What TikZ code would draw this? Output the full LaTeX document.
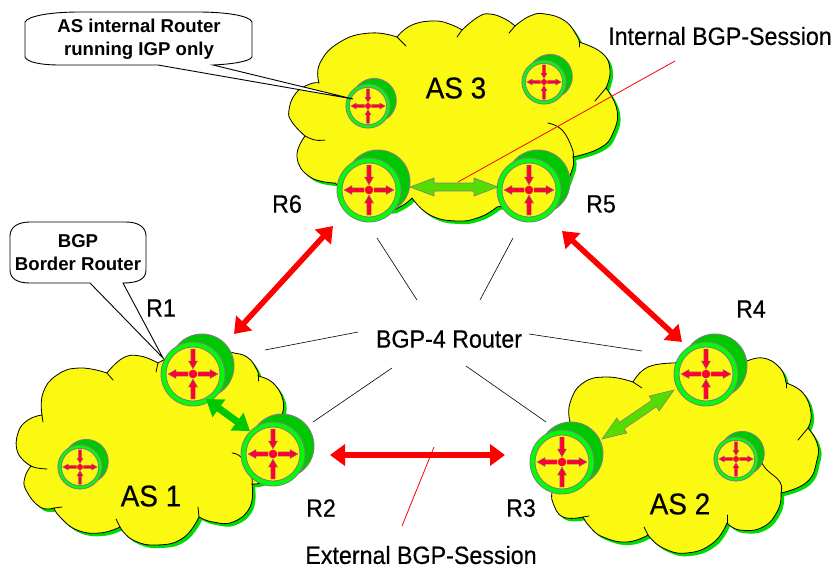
\documentclass[tikz,border=0pt]{standalone}
\usepackage{fontspec}
\setmainfont{Liberation Sans}
\newfontfamily\labfont[FakeStretch=0.93,FakeBold=0.35]{Liberation Sans}
\usetikzlibrary{arrows.meta,calc}
\definecolor{cloudyellow}{HTML}{FBF912}
\definecolor{cloudshadow}{HTML}{00DC00}
\definecolor{routerback}{HTML}{00C800}
\definecolor{routerring}{HTML}{00FF00}
\definecolor{routerred}{HTML}{FF0033}
\definecolor{routergray}{HTML}{808080}
\definecolor{limearrow}{HTML}{55DD00}
\tikzset{
  every node/.style={inner sep=0pt,outer sep=0pt},
  cloudline/.style={draw=black,line width=0.8pt,line join=round},
  tailline/.style={black,line width=0.8pt,line cap=round},
  routerparts/.style={draw=routergray,line width=0.9pt},
  redarrow/.style={draw=red,line width=5.5pt,{Triangle[length=15pt,width=21pt,fill=red]}-{Triangle[length=15pt,width=21pt,fill=red]}},
  darkarrow/.style={draw=routerback,line width=7pt,{Triangle[length=16pt,width=21pt,fill=routerback]}-{Triangle[length=16pt,width=21pt,fill=routerback]}},
  thinblack/.style={black,line width=0.6pt},
  thinred/.style={red,line width=0.8pt},
  biglabel/.style={font=\labfont\fontsize{25}{25}\selectfont},
  aslabel/.style={font=\labfont\fontsize{30}{30}\selectfont},
  calloutbox/.style={draw=black,line width=0.9pt,fill=white,line join=miter},
  callouttext/.style={font=\bfseries\fontsize{18.6}{23}\selectfont,align=center},
}
% router: name, x, y, scale
\newcommand{\routerdraw}[4]{%
  \begin{scope}[shift={(#2,#3)},scale=#4]
    \filldraw[routerparts,fill=routerback] (9,-8) circle (32);
    \filldraw[routerparts,fill=routerring] (0,0) circle (32);
    \filldraw[routerparts,fill=cloudyellow] (0,0) circle (27);
    \foreach \a in {0,180}{
      \filldraw[rotate=\a,fill=routerred,draw=routergray,line width=0.4pt]
        (5,-2.2)--(17,-2.2)--(17,-4.5)--(25,0)--(17,4.5)--(17,2.2)--(5,2.2)--cycle;}
    \foreach \a in {90,270}{
      \filldraw[rotate=\a,fill=routerred,draw=routergray,line width=0.4pt]
        (25,-2.2)--(13,-2.2)--(13,-4.5)--(5,0)--(13,4.5)--(13,2.2)--(25,2.2)--cycle;}
    \fill[routerred] (0,0) circle (4.3);
  \end{scope}
  \node[circle,minimum size=#4*64pt] (#1) at (#2,#3) {};
}
% block arrow with outline, between two named points
\newcommand{\blockarrow}[2]{%
  \filldraw[fill=limearrow,draw=routergray,line width=0.6pt]
    let \p1=($(#2)-(#1)$),\n1={atan2(\y1,\x1)},\n2={veclen(\x1,\y1)} in
    {[shift={(#1)},rotate=\n1]
      (0,0)--(24,-9)--(24,-4)--(\n2-24,-4)--(\n2-24,-9)--(\n2,0)--(\n2-24,9)--(\n2-24,4)--(24,4)--(24,9)--cycle};
}
\newcommand{\cloudthree}{
 (319,83) -- plot[smooth,tension=.8] coordinates {(319,83)(320,63)(340,42)(370,33)(397,37)}
 -- plot[smooth,tension=.8] coordinates {(397,37)(412,25)(435,21)(452,25)(462,30)}
 -- plot[smooth,tension=.8] coordinates {(462,30)(478,17)(490,14)(505,19)(515,26)}
 -- plot[smooth,tension=.8] coordinates {(515,26)(530,16)(545,14)(565,21)(577,36)(579,42)}
 -- plot[smooth,tension=.8] coordinates {(579,42)(602,53)(610,70)(606,88)}
 -- plot[smooth,tension=.8] coordinates {(606,88)(617,110)(613,133)(600,148)(573,157)}
 -- plot[smooth,tension=.8] coordinates {(573,157)(572,170)(560,190)(530,200)(497,207)}
 -- plot[smooth,tension=.8] coordinates {(497,207)(480,217)(457,221)(430,215)(412,198)}
 -- plot[smooth,tension=.8] coordinates {(412,198)(400,207)(385,210)(360,200)(335,183)}
 -- plot[smooth,tension=.8] coordinates {(335,183)(310,177)(297,157)(305,136)}
 -- plot[smooth,tension=.8] coordinates {(305,136)(292,122)(289,110)(296,93)(310,84)(319,83)} -- cycle}
\newcommand{\cloudone}{
 (42,415) -- plot[smooth,tension=.8] coordinates {(42,415)(43,393)(57,375)(80,368)(107,373)}
 -- plot[smooth,tension=.8] coordinates {(107,373)(123,358)(140,356)(158,363)}
 -- plot[smooth,tension=.8] coordinates {(158,363)(175,355)(205,345)(230,352)(247,357)(257,370)(258,376)}
 -- plot[smooth,tension=.8] coordinates {(258,376)(273,383)(283,400)(282,415)}
 -- plot[smooth,tension=.8] coordinates {(282,415)(292,445)(270,477)(252,484)}
 -- plot[smooth,tension=.8] coordinates {(252,484)(250,507)(233,522)(213,522)(199,517)}
 -- plot[smooth,tension=.8] coordinates {(199,517)(183,538)(157,545)(133,540)(120,527)}
 -- plot[smooth,tension=.8] coordinates {(120,527)(100,533)(77,530)(60,517)(54,508)}
 -- plot[smooth,tension=.8] coordinates {(54,508)(40,507)(26,490)(25,477)(31,466)}
 -- plot[smooth,tension=.8] coordinates {(31,466)(18,453)(18,433)(28,420)(42,415)} -- cycle}
\newcommand{\cloudtwo}{
 (570,422) -- plot[smooth,tension=.8] coordinates {(570,422)(570,403)(583,383)(607,377)(633,382)}
 -- plot[smooth,tension=.8] coordinates {(633,382)(648,367)(675,363)}
 -- plot[smooth,tension=.8] coordinates {(675,363)(710,350)(745,362)}
 -- plot[smooth,tension=.8] coordinates {(745,362)(763,358)(780,368)(786,383)}
 -- plot[smooth,tension=.8] coordinates {(786,383)(803,393)(811,413)(808,428)}
 -- plot[smooth,tension=.8] coordinates {(808,428)(817,443)(817,460)(807,482)(781,493)}
 -- plot[smooth,tension=.8] coordinates {(781,493)(778,510)(763,527)(740,530)(727,523)}
 -- plot[smooth,tension=.8] coordinates {(727,523)(713,543)(687,553)(663,548)(648,535)}
 -- plot[smooth,tension=.8] coordinates {(648,535)(627,542)(603,537)(590,527)(583,517)}
 -- plot[smooth,tension=.8] coordinates {(583,517)(563,517)(553,503)(552,493)}
 -- plot[smooth,tension=.8] coordinates {(552,493)(555,460)(570,422)} -- cycle}
\begin{document}
\begin{tikzpicture}[x=1pt,y=-1pt]
\useasboundingbox (0,0) rectangle (835,568);
\fill[white] (0,0) rectangle (835,568);

% cloud shadows and clouds
\fill[cloudshadow,shift={(3,3)}] \cloudthree;
\fill[cloudshadow,shift={(3,3)}] \cloudone;
\fill[cloudshadow,shift={(3,3)}] \cloudtwo;
\path[cloudline,fill=cloudyellow] \cloudthree;
\path[cloudline,fill=cloudyellow] \cloudone;
\path[cloudline,fill=cloudyellow] \cloudtwo;

% inner lobe tails
\draw[tailline] (397,37) -- (406,46);
\draw[tailline] (462,30) -- (457,37);
\draw[tailline] (515,26) -- (509,33);
\draw[tailline] (579,42) -- (579,47);
\draw[tailline] (606,88) -- (595,101);
\draw[tailline] plot[smooth,tension=.8] coordinates {(548,123)(562,130)(572,148)(573,157)};
\draw[tailline] plot[smooth,tension=.8] coordinates {(305,136)(315,140)(325,140)};
\draw[tailline] (107,373) -- (113,380);
\draw[tailline] (158,363) -- (156,372);
\draw[tailline] (258,376) -- (258,381);
\draw[tailline] plot[smooth,tension=.8] coordinates {(232,453)(242,458)(251,475)(252,484)};
\draw[tailline] (199,517) -- (198,507);
\draw[tailline] (120,527) -- (116,519);
\draw[tailline] (54,508) -- (62,507);
\draw[tailline] plot[smooth,tension=.8] coordinates {(31,466)(37,468)(47,469)};
\draw[tailline] (42,415) -- (43,422);
\draw[tailline] (633,382) -- (642,388);
\draw[tailline] (786,383) -- (786,388);
\draw[tailline] (808,428) -- (798,440);
\draw[tailline] plot[smooth,tension=.8] coordinates {(781,493)(780,482)(767,470)(762,463)};
\draw[tailline] (727,523) -- (727,515);
\draw[tailline] (648,535) -- (644,527);
\draw[tailline] (583,517) -- (589,516);

% routers
\routerdraw{R6}{369}{190}{1}
\routerdraw{R5}{529}{190}{1}
\routerdraw{R1}{193}{374}{1}
\routerdraw{R2}{273}{454}{1}
\routerdraw{R3}{562}{462}{1}
\routerdraw{R4}{706}{374}{1}
\routerdraw{IA}{368}{106}{0.69}
\routerdraw{IB}{544}{82}{0.69}
\routerdraw{IC}{80}{467}{0.69}
\routerdraw{ID}{736}{459}{0.69}

% callouts
\path[calloutbox] (25,57) -- (25,22) .. controls (28,16) and (50,12) .. (80,12) -- (197,12)
  .. controls (228,12) and (250,16) .. (252,22) -- (252,57)
  .. controls (250,61) and (235,64) .. (213,65) -- (353,99) -- (158,65) -- (60,65)
  .. controls (40,65) and (27,62) .. (25,57) -- cycle;
\path[calloutbox] (10,236) .. controls (10,227) and (18,222) .. (30,222) -- (126,222)
  .. controls (138,222) and (146,227) .. (146,236) -- (146,270)
  .. controls (146,279) and (138,283) .. (123,283) -- (163,358) -- (90,283) -- (30,283)
  .. controls (18,283) and (10,279) .. (10,270) -- cycle;
\node[callouttext] (calloutA) at (139,39) {AS internal Router\\running IGP only};
\node[callouttext] (calloutB) at (78,253) {BGP\\Border Router};

% sessions
\blockarrow{$(R6.center)+(41,-3)$}{$(R5.center)+(-31,-3)$}
\blockarrow{$(R3.center)+(40,-23)$}{$(R4.center)+(-32,16)$}
\draw[darkarrow] ([shift={(13,25)}]R1.center) -- ([shift={(-23,-23)}]R2.center);
\draw[redarrow] ([shift={(-36,36)}]R6.center) -- ([shift={(41,-40)}]R1.center);
\draw[redarrow] ([shift={(33,41)}]R5.center) -- ([shift={(-24,-32)}]R4.center);
\draw[redarrow] ([shift={(57,1)}]R2.center) -- ([shift={(-57,-7)}]R3.center);

% labels
\node[biglabel] (bgp) at (449,339) {BGP-4 Router};
\node[biglabel] (ibgp) at (720,36) {Internal BGP-Session};
\node[biglabel] (ebgp) at (421,555) {External BGP-Session};
\node[biglabel] (lR1) at (161,308) {R1};
\node[biglabel] (lR2) at (321,508) {R2};
\node[biglabel] (lR3) at (521,508) {R3};
\node[biglabel] (lR4) at (751,309) {R4};
\node[biglabel] (lR5) at (601,204) {R5};
\node[biglabel] (lR6) at (287,204) {R6};
\node[aslabel] (as1) at (151,496) {AS 1};
\node[aslabel] (as2) at (680,504) {AS 2};
\node[aslabel] (as3) at (456,88) {AS 3};

% thin leader lines
\coordinate (a1) at (377,238); \coordinate (b1) at (417,300);
\coordinate (a2) at (513,238); \coordinate (b2) at (480,300);
\coordinate (a3) at (265,350); \coordinate (b3) at (358,332);
\coordinate (a4) at (529,334); \coordinate (b4) at (642,351);
\coordinate (a5) at (466,366); \coordinate (b5) at (546,422);
\coordinate (a6) at (313,422); \coordinate (b6) at (392,368);
\draw[thinblack] (a1) -- (b1);
\draw[thinblack] (a2) -- (b2);
\draw[thinblack] (a3) -- (b3);
\draw[thinblack] (a4) -- (b4);
\draw[thinblack] (a5) -- (b5);
\draw[thinblack] (a6) -- (b6);
\coordinate (c1) at (675,61); \coordinate (d1) at (458,182);
\coordinate (c2) at (434,447); \coordinate (d2) at (402,526);
\draw[thinred] (c1) -- (d1);
\draw[thinred] (c2) -- (d2);
\end{tikzpicture}
\end{document}
